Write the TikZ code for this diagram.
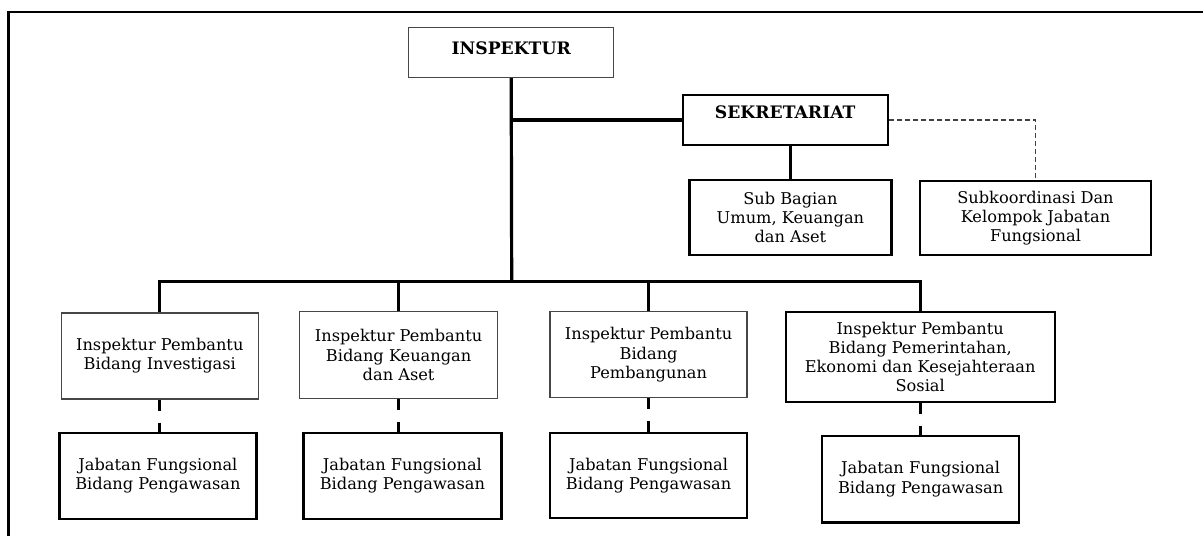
\documentclass[tikz,border=0pt]{standalone}
\usepackage{fontspec}
\setmainfont{DejaVu Serif}
\usetikzlibrary{calc}

\begin{document}
\begin{tikzpicture}
        [
            x=0.5pt, y=-0.5pt,
            line/.style = {
                draw,
                line width=1.6pt
            },
            dashline/.style = {
                draw,
                line width=1.6pt,
                dash pattern=on 5.5pt off 6pt
            },
            thinline/.style = {
                draw,
                gray!50!black,
                line width=0.6pt,
                dash pattern=on 2.5pt off 1.5pt
            },
            block/.style = {
                rectangle,
                draw,
                line width=1.1pt,
                align=center,
                inner sep=1pt,
                font=\fontsize{8.1}{9.6}\selectfont
            },
            lightblock/.style = {
                block,
                draw=gray!55!black,
                line width=0.7pt
            },
            head/.style = {
                font=\fontsize{8.6}{10}\selectfont\bfseries
            }
        ]

        \useasboundingbox (0,0) rectangle (1203,536);
        \draw[line width=1.2pt] (8.4,536) -- (8.4,11.7) -- (1203,11.7);

        \node[lightblock,head,minimum width=102.5pt,minimum height=25pt,text depth=4pt] (inspektur) at (511.2,52.3) {INSPEKTUR};
        \node[block,head,minimum width=102.5pt,minimum height=25pt,text depth=7.5pt] (sekretariat) at (785.2,120) {SEKRETARIAT};
        \node[block,minimum width=101pt,minimum height=37.5pt] (subbag) at (790.4,217.5) {Sub Bagian\\Umum, Keuangan\\dan Aset};
        \node[block,minimum width=115.5pt,minimum height=37pt] (subkoor) at (1035.5,218) {Subkoordinasi Dan\\Kelompok Jabatan\\Fungsional};

        \node[lightblock,minimum width=98.5pt,minimum height=43pt] (ipinv) at (159.8,355.8) {Inspektur Pembantu\\Bidang Investigasi};
        \node[lightblock,minimum width=99pt,minimum height=43.3pt] (ipkeu) at (398.6,355) {Inspektur Pembantu\\Bidang Keuangan\\dan Aset};
        \node[lightblock,minimum width=98.5pt,minimum height=43pt] (ippem) at (648.6,354.7) {Inspektur Pembantu\\Bidang\\Pembangunan};
        \node[block,minimum width=134.5pt,minimum height=45.3pt] (ippek) at (920.2,357) {Inspektur Pembantu\\Bidang Pemerintahan,\\Ekonomi dan Kesejahteraan\\Sosial};

        \node[block,minimum width=98.5pt,minimum height=43.3pt] (jfinv) at (157.9,476) {Jabatan Fungsional\\Bidang Pengawasan};
        \node[block,minimum width=99pt,minimum height=43.3pt] (jfkeu) at (402.4,476) {Jabatan Fungsional\\Bidang Pengawasan};
        \node[block,minimum width=98.5pt,minimum height=42.8pt] (jfpem) at (648.6,475.5) {Jabatan Fungsional\\Bidang Pengawasan};
        \node[block,minimum width=98.6pt,minimum height=43.2pt] (jfpek) at (920.6,479.2) {Jabatan Fungsional\\Bidang Pengawasan};

        \coordinate (bus) at (511.7,281.7);

        \path[line] (inspektur.south) -- (bus);
        \path[line] (inspektur.south |- sekretariat.west) -- (sekretariat.west);
        \path[line] (subbag.north |- sekretariat.south) -- (subbag.north);
        \path[thinline] (sekretariat.east) -| (subkoor.north);
        \path[line] (ipinv.north) -- (ipinv.north |- bus) -- (ippek.north |- bus) -- (ippek.north);
        \path[line] (ipkeu.north |- bus) -- (ipkeu.north);
        \path[line] (ippem.north |- bus) -- (ippem.north);

        \path[dashline] (ipinv.south) -- (ipinv.south |- jfinv.north);
        \path[dashline] (ipkeu.south) -- (ipkeu.south |- jfkeu.north);
        \path[dashline] (ippem.south) -- (ippem.south |- jfpem.north);
        \path[dashline] (ippek.south) -- (ippek.south |- jfpek.north);
    \end{tikzpicture}
\end{document}
